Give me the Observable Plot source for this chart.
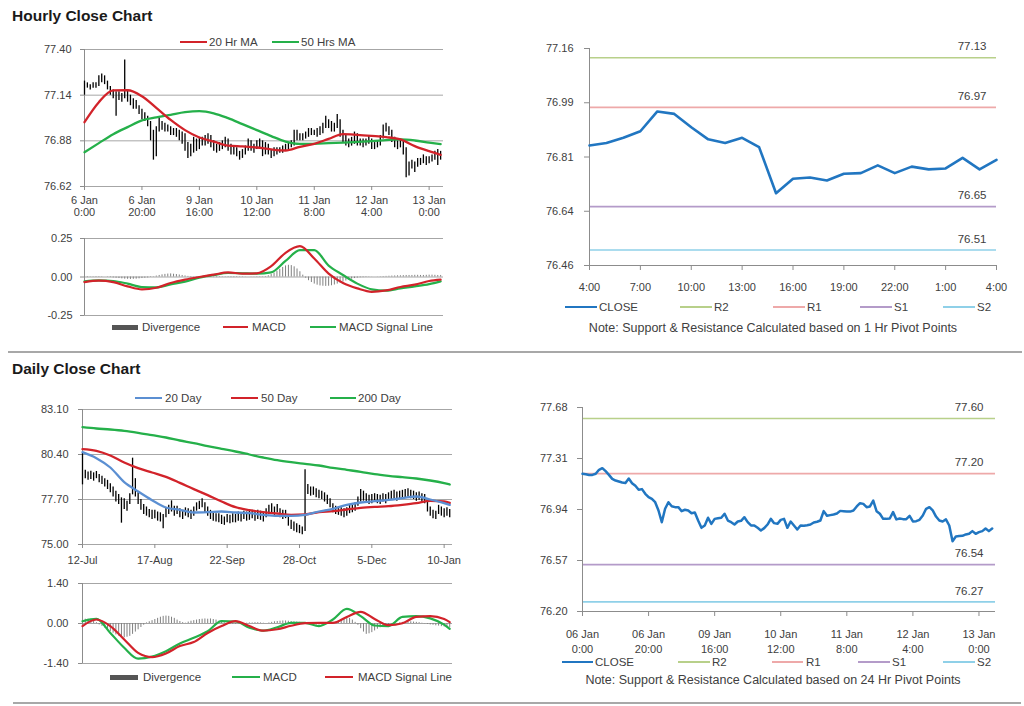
<!DOCTYPE html>
<html><head><meta charset="utf-8">
<script src="https://cdn.jsdelivr.net/npm/d3@7"></script>
<script src="https://cdn.jsdelivr.net/npm/@observablehq/plot@0.6"></script>
<style>
body{margin:0;background:#fff;font-family:"Liberation Sans",Arial,Helvetica,sans-serif;}
#root{position:relative;width:1024px;height:706px;overflow:hidden;background:#fff;}
.title{position:absolute;font-weight:bold;font-size:15.5px;color:#1a1a1a;line-height:18px;white-space:nowrap;}
.sep{position:absolute;height:2px;background:#a8a8a8;}
.note{position:absolute;font-size:12.5px;color:#404040;text-align:center;white-space:nowrap;line-height:14px;}
</style></head><body><div id="root"></div>
<script>
// ---------------- DATA ----------------
// Hourly bars (index 0 = 6 Jan 0:00, one bar per trading hour)
const hTickPos = [0, 20, 40, 60, 80, 100, 120];
const hTickLabels = ["6 Jan\n0:00","6 Jan\n20:00","9 Jan\n16:00","10 Jan\n12:00","11 Jan\n8:00","12 Jan\n4:00","13 Jan\n0:00"];
const hPriceTicks = [76.62, 76.88, 77.14, 77.40];
const hClose = [
77.199,77.196,77.191,77.191,77.199,77.228,77.240,77.218,77.191,77.162,
77.150,77.143,77.136,77.133,77.165,77.131,77.112,77.083,77.088,77.054,
77.030,77.017,76.993,76.933,76.848,76.945,76.993,76.964,76.957,76.957,
76.928,76.938,76.933,76.913,76.918,76.860,76.807,76.824,76.880,76.836,
76.872,76.877,76.880,76.909,76.860,76.848,76.831,76.853,76.858,76.884,
76.848,76.824,76.824,76.807,76.788,76.805,76.831,76.872,76.841,76.836,
76.865,76.872,76.807,76.853,76.824,76.795,76.824,76.822,76.826,76.831,
76.846,76.851,76.860,76.928,76.894,76.899,76.904,76.911,76.930,76.928,
76.925,76.925,76.933,76.962,76.986,76.981,76.957,76.962,77.005,76.928,
76.909,76.872,76.872,76.875,76.921,76.868,76.875,76.870,76.870,76.894,
76.853,76.855,76.865,76.896,76.945,76.957,76.933,76.889,76.860,76.853,
76.868,76.824,76.710,76.744,76.747,76.749,76.759,76.764,76.783,76.764,
76.776,76.783,76.802,76.783,76.802];
const hHigh = [
77.22,77.21,77.20,77.21,77.21,77.25,77.26,77.25,77.22,77.19,
77.17,77.16,77.16,77.15,77.34,77.17,77.14,77.12,77.11,77.08,
77.06,77.04,77.02,76.99,76.94,76.96,77.01,76.99,76.98,76.97,
76.96,76.95,76.95,76.94,76.93,76.92,76.87,76.86,76.90,76.89,
76.90,76.90,76.91,76.92,76.91,76.88,76.86,76.87,76.88,76.90,
76.89,76.86,76.85,76.84,76.82,76.83,76.85,76.89,76.88,76.86,
76.88,76.89,76.88,76.87,76.86,76.83,76.84,76.84,76.84,76.85,
76.86,76.87,76.88,76.94,76.94,76.92,76.92,76.93,76.95,76.95,
76.94,76.95,76.96,76.98,77.02,77.00,76.99,76.98,77.03,77.00,
76.94,76.91,76.89,76.90,76.93,76.92,76.89,76.89,76.89,76.91,
76.89,76.87,76.88,76.91,76.97,76.98,76.96,76.94,76.90,76.88,
76.89,76.88,76.84,76.76,76.77,76.76,76.78,76.78,76.80,76.79,
76.79,76.80,76.82,76.83,76.82];
const hLow = [
77.14,77.18,77.17,77.18,77.18,77.19,77.21,77.20,77.17,77.14,
77.12,77.02,77.11,77.10,77.12,77.10,77.08,77.06,77.06,77.03,
77.00,76.99,76.96,76.88,76.77,76.79,76.93,76.94,76.93,76.93,
76.91,76.91,76.90,76.88,76.86,76.82,76.78,76.79,76.81,76.82,
76.83,76.85,76.85,76.86,76.84,76.82,76.81,76.82,76.83,76.84,
76.82,76.80,76.80,76.79,76.77,76.78,76.80,76.82,76.82,76.81,
76.83,76.84,76.79,76.80,76.80,76.78,76.79,76.80,76.81,76.81,
76.82,76.83,76.84,76.85,76.88,76.88,76.88,76.89,76.90,76.91,
76.91,76.90,76.91,76.92,76.95,76.95,76.93,76.93,76.95,76.90,
76.87,76.85,76.84,76.85,76.86,76.85,76.85,76.84,76.85,76.86,
76.83,76.83,76.84,76.85,76.89,76.93,76.91,76.87,76.84,76.83,
76.84,76.80,76.67,76.68,76.72,76.70,76.73,76.74,76.75,76.74,
76.75,76.76,76.77,76.74,76.77];
// moving averages and MACD read at these bar indices
const hSampleIdx = [0,5,10,15,20,25,30,35,40,45,50,55,60,65,70,75,80,85,90,95,100,105,110,115,120,124];
const hMA20 = [76.986,77.100,77.167,77.168,77.134,77.068,76.999,76.941,76.899,76.876,76.853,76.848,76.842,76.831,76.825,76.846,76.863,76.891,76.918,76.914,76.908,76.901,76.888,76.850,76.821,76.800];
const hMA50 = [76.815,76.867,76.918,76.958,76.996,77.013,77.028,77.043,77.049,77.037,77.009,76.975,76.941,76.907,76.876,76.863,76.863,76.867,76.870,76.874,76.878,76.884,76.888,76.882,76.870,76.861];
const hMacdTicks = [-0.25, 0, 0.25];
const hMacd = [-0.033,-0.024,-0.033,-0.061,-0.080,-0.070,-0.039,-0.017,0.000,0.015,0.030,0.022,0.024,0.070,0.157,0.200,0.120,0.022,-0.039,-0.074,-0.096,-0.087,-0.065,-0.050,-0.026,-0.017];
const hSignal = [-0.028,-0.022,-0.026,-0.043,-0.065,-0.067,-0.048,-0.030,-0.004,0.013,0.026,0.024,0.022,0.030,0.104,0.174,0.174,0.074,0.013,-0.043,-0.080,-0.089,-0.074,-0.061,-0.046,-0.028];
const hDiv = [
-0.003,-0.004,-0.002,0.002,0.003,0.003,0.002,0,-0.002,-0.004,
-0.006,-0.008,-0.010,-0.012,-0.014,-0.015,-0.016,-0.015,-0.014,-0.012,-0.010,-0.008,-0.006,
-0.003,0.002,0.006,0.010,0.014,0.017,0.019,0.020,0.018,0.016,0.013,0.010,0.007,0.004,
0.003,0.002,0.002,0.001,0,-0.002,-0.003,-0.003,-0.004,-0.004,-0.003,-0.002,-0.002,-0.003,-0.004,-0.004,-0.003,-0.002,-0.002,-0.001,0,0.001,0.001,0.002,0.002,0.002,0.003,
0.008,0.016,0.026,0.038,0.050,0.062,0.072,0.076,0.074,0.066,0.052,0.034,0.012,
-0.008,-0.024,-0.036,-0.046,-0.053,-0.058,-0.060,-0.061,-0.060,-0.057,-0.052,-0.046,-0.040,-0.033,-0.026,-0.020,-0.014,-0.010,-0.007,
-0.005,-0.004,-0.003,-0.002,-0.001,0,0.001,0.002,0.003,0.004,
0.005,0.006,0.007,0.008,0.008,0.009,0.010,0.010,0.010,0.011,0.011,0.010,0.010,0.011,0.012,0.012,0.011,0.010,0.010];

// Hourly pivot chart (last 24 hours)
const pTickPos = [0,3,6,9,12,15,18,21,24];
const pTickLabels = ["4:00","7:00","10:00","13:00","16:00","19:00","22:00","1:00","4:00"];
const pYTicks = [76.46, 76.635, 76.81, 76.985, 77.16];
const pYLabels = ["76.46","76.64","76.81","76.99","77.16"];
const pClose = [76.847,76.855,76.872,76.893,76.957,76.949,76.906,76.867,76.855,76.872,76.842,76.693,76.740,76.744,76.734,76.756,76.758,76.783,76.758,76.779,76.770,76.773,76.807,76.770,76.801];
const hPivotNames = ["R2","R1","S1","S2"];
const hPivotValues = [77.13, 76.97, 76.65, 76.51];

// Daily bars (index 0 = 12-Jul)
const dTickPos = [0, 26, 52, 78, 104, 130];
const dTickLabels = ["12-Jul","17-Aug","22-Sep","28-Oct","5-Dec","10-Jan"];
const dPriceTicks = [75.00, 77.70, 80.40, 83.10];
const dClose = [
79.18,79.28,79.08,79.18,79.08,79.22,78.98,78.88,78.74,78.58,
78.42,78.18,77.88,77.74,77.18,77.48,77.28,77.78,78.68,78.18,
77.74,77.38,77.08,76.98,76.88,76.78,76.82,76.68,76.62,76.48,
76.98,77.08,77.28,76.98,77.08,76.88,76.78,76.98,76.88,76.78,
76.98,77.28,77.38,77.48,77.18,76.98,76.78,76.68,76.62,76.58,
76.48,76.38,76.54,76.48,76.58,76.54,76.68,76.62,76.78,76.68,
76.74,76.82,76.68,76.78,76.74,76.62,76.88,77.08,77.18,76.98,
77.18,76.88,76.78,76.82,76.38,76.18,76.08,75.98,75.88,75.78,
78.38,78.28,78.18,78.22,78.08,78.02,77.98,77.82,77.68,77.48,
77.18,77.08,77.02,76.98,76.88,76.98,77.14,77.18,77.28,77.58,
77.98,77.88,77.78,77.68,77.74,77.82,77.74,77.68,77.82,77.74,
77.88,77.98,78.02,77.88,77.98,78.02,78.08,78.14,78.02,77.98,
77.88,77.94,77.82,77.74,77.18,76.98,76.78,76.74,77.08,76.98,
76.88,76.94,76.82];
const dHigh = [
80.48,79.45,79.35,79.40,79.30,79.38,79.20,79.10,78.95,78.85,
78.65,78.45,78.20,78.00,77.80,77.75,77.60,78.05,80.18,78.95,
78.10,77.70,77.40,77.25,77.10,77.05,77.05,76.95,76.90,76.80,
77.20,77.35,77.62,77.30,77.30,77.15,77.05,77.20,77.15,77.05,
77.25,77.50,77.60,77.74,77.50,77.25,77.05,76.90,76.85,76.85,
76.75,76.65,76.80,76.75,76.85,76.80,76.95,76.90,77.00,76.95,
77.00,77.05,76.95,77.05,77.00,76.90,77.15,77.35,77.45,77.25,
77.40,77.15,77.05,77.05,76.80,76.45,76.35,76.25,76.15,76.05,
79.48,78.60,78.45,78.45,78.35,78.25,78.20,78.10,77.95,77.75,
77.45,77.30,77.25,77.20,77.15,77.20,77.35,77.40,77.50,77.85,
78.30,78.20,78.05,77.95,78.00,78.05,78.00,77.95,78.05,78.00,
78.10,78.20,78.25,78.15,78.20,78.25,78.30,78.35,78.25,78.20,
78.10,78.15,78.05,78.00,77.75,77.25,77.05,77.00,77.35,77.25,
77.15,77.20,77.10];
const dLow = [
78.58,78.95,78.85,78.90,78.80,78.95,78.70,78.60,78.45,78.30,
78.10,77.85,77.55,77.40,76.28,77.10,77.00,77.40,77.98,77.85,
77.40,77.05,76.80,76.70,76.60,76.50,76.55,76.40,76.35,75.94,
76.60,76.80,76.95,76.70,76.80,76.60,76.50,76.70,76.60,76.50,
76.70,77.00,77.10,77.20,76.90,76.70,76.50,76.40,76.35,76.30,
76.20,76.15,76.30,76.25,76.30,76.30,76.40,76.35,76.50,76.40,
76.45,76.55,76.40,76.50,76.45,76.35,76.60,76.80,76.90,76.70,
76.90,76.60,76.50,76.55,76.10,75.90,75.80,75.70,75.65,75.58,
75.78,78.00,77.90,77.95,77.80,77.75,77.70,77.55,77.40,77.20,
76.90,76.80,76.75,76.70,76.60,76.70,76.85,76.90,77.00,77.30,
77.55,77.60,77.50,77.40,77.45,77.55,77.45,77.40,77.55,77.45,
77.60,77.70,77.75,77.60,77.70,77.75,77.80,77.85,77.75,77.70,
77.60,77.65,77.55,77.45,76.95,76.70,76.55,76.50,76.80,76.70,
76.60,76.70,76.60];
const dSampleIdx = [0,5,10,15,20,25,30,35,40,45,50,55,60,65,70,75,80,85,90,95,100,105,110,115,120,125,130,132];
const dMA20 = [80.54,80.18,79.62,78.74,78.18,77.66,77.22,77.08,76.92,76.94,76.98,76.92,76.88,76.78,76.72,76.72,76.78,76.98,77.14,77.38,77.52,77.60,77.68,77.78,77.88,77.70,77.48,77.38];
const dMA50 = [80.72,80.62,80.34,79.92,79.58,79.32,79.06,78.70,78.32,77.96,77.58,77.24,77.06,76.94,76.86,76.78,76.80,76.94,77.00,77.10,77.20,77.26,77.30,77.38,77.48,77.62,77.58,77.50];
const dMA200 = [82.04,81.96,81.90,81.82,81.70,81.56,81.42,81.24,81.08,80.90,80.74,80.58,80.40,80.22,80.06,79.94,79.84,79.74,79.60,79.48,79.36,79.22,79.12,79.04,78.96,78.84,78.68,78.60];
const dMacdTicks = [-1.40, 0, 1.40];
const dMacd = [0.08,0.16,-0.33,-0.85,-1.23,-1.16,-0.97,-0.70,-0.50,-0.27,0.08,0.07,-0.15,-0.25,-0.13,0.02,0.02,-0.09,0.14,0.51,0.26,-0.07,-0.09,0.23,0.26,0.18,-0.04,-0.19];
const dSignal = [-0.09,0.14,-0.09,-0.56,-1.03,-1.18,-1.05,-0.79,-0.65,-0.33,-0.09,0.08,-0.09,-0.25,-0.20,-0.08,0.01,0.02,0.02,0.23,0.41,0.16,-0.06,0.01,0.23,0.26,0.16,0.05];
const dDiv = [
0.10,0.15,0.15,0.12,0.08,0.03,
-0.05,-0.10,-0.16,-0.22,-0.28,-0.34,-0.40,-0.44,-0.47,-0.50,-0.48,-0.45,-0.38,-0.30,-0.22,-0.14,-0.06,
0.02,0.06,0.10,0.14,0.18,0.22,0.25,0.26,0.25,0.22,0.18,0.12,0.07,0.03,0.01,
0.05,0.08,0.10,0.12,0.14,0.15,0.16,0.15,0.16,0.14,0.12,0.08,0.04,
0.02,0.00,-0.02,-0.03,-0.03,-0.02,-0.01,0.00,0.01,0.02,
0.02,0.03,0.03,0.02,0.01,0.00,0.02,0.04,0.06,0.07,
0.08,0.09,0.09,0.08,0.07,0.06,0.05,0.04,0.03,0.03,
0.00,-0.03,-0.05,-0.06,-0.06,-0.05,-0.04,-0.03,-0.02,0.00,0.04,0.09,0.14,
0.18,0.20,0.18,0.12,0.04,
-0.06,-0.18,-0.30,-0.38,-0.36,-0.32,-0.26,-0.20,-0.15,-0.10,-0.07,-0.05,
-0.04,-0.02,0.00,0.02,0.04,0.05,0.06,0.06,0.05,0.04,0.03,
0.01,-0.01,-0.03,-0.05,-0.06,-0.08,-0.09,-0.11,-0.12,-0.14,-0.15];

// Daily pivot chart (hourly closes, same bars as the hourly chart)
const qTickPos = [0, 20, 40, 60, 80, 100, 120];
const qTickLabels = ["06 Jan\n0:00","06 Jan\n20:00","09 Jan\n16:00","10 Jan\n12:00","11 Jan\n8:00","12 Jan\n4:00","13 Jan\n0:00"];
const qYTicks = [76.20, 76.57, 76.94, 77.31, 77.68];
const dPivotNames = ["R2","R1","S1","S2"];
const dPivotValues = [77.60, 77.20, 76.54, 76.27];

// text
const titles = ["Hourly Close Chart", "Daily Close Chart"];
const hMaNames = ["20 Hr MA", "50 Hrs MA"];
const dMaNames = ["20 Day", "50 Day", "200 Day"];
const macdNames = ["Divergence", "MACD", "MACD Signal Line"];
const notes = ["Note: Support & Resistance Calculated based on 1 Hr Pivot Points",
               "Note: Support & Resistance Calculated based on 24 Hr Pivot Points"];

// ---------------- STYLE ----------------
const FONT = '"Liberation Sans", Arial, Helvetica, sans-serif';
const TXT = "#404040", GRID = "#a6a6a6", AXIS = "#8c8c8c";
const RED = "#d2232a", GREEN = "#25b04a", BLUE20 = "#5b8fd2", CLOSEBLUE = "#2176c1";
const PIVC = {R2: "#b8d08a", R1: "#eea9a9", S1: "#b49bc9", S2: "#8fd0e8"};

const root = document.getElementById("root");
function place(el, left, top) {
  const d = document.createElement("div");
  d.style.cssText = `position:absolute;left:${left}px;top:${top}px;`;
  d.appendChild(el); root.appendChild(d);
}
function mk(o) {
  return Plot.plot(Object.assign(o, {style: {fontFamily: FONT, fontSize: "11px", color: TXT, background: "transparent", overflow: "visible"}}));
}
const fmt2 = d => d.toFixed(2);
function labFrom(pos, labels) { return d => labels[pos.indexOf(d)]; }
function legLine(x1, x2, y, color, th) {
  const d = document.createElement("div");
  d.style.cssText = `position:absolute;left:${x1}px;top:${y - th / 2}px;width:${x2 - x1}px;height:${th}px;background:${color};`;
  root.appendChild(d);
}
function legText(x, y, s) {
  const d = document.createElement("div");
  d.textContent = s;
  d.style.cssText = `position:absolute;left:${x}px;top:${y - 7}px;font-size:11.5px;color:${TXT};line-height:14px;white-space:nowrap;`;
  root.appendChild(d);
}
function title(s, x, y) { const d = document.createElement("div"); d.className = "title"; d.textContent = s; d.style.left = x + "px"; d.style.top = y + "px"; root.appendChild(d); }
function note(s, cx, y) { const d = document.createElement("div"); d.className = "note"; d.textContent = s; d.style.left = (cx - 250) + "px"; d.style.width = "500px"; d.style.top = (y - 7) + "px"; root.appendChild(d); }
function sep(x, y, w) { const d = document.createElement("div"); d.className = "sep"; d.style.left = x + "px"; d.style.top = y + "px"; d.style.width = w + "px"; root.appendChild(d); }

// ---------------- PANEL 1: hourly price ----------------
const hBars = hClose.map((c, i) => ({i, c, hi: hHigh[i], lo: hLow[i]}));
place(mk({
  width: 460, height: 200, marginLeft: 84, marginRight: 17, marginTop: 19, marginBottom: 44,
  x: {domain: [0, 125], axis: null}, y: {domain: [hPriceTicks[0], hPriceTicks[hPriceTicks.length - 1]], axis: null},
  marks: [
    Plot.gridY(hPriceTicks, {stroke: GRID, strokeOpacity: 1}),
    Plot.ruleX([0], {stroke: AXIS}),
    Plot.axisY(hPriceTicks, {tickSize: 4, tickPadding: 9, tickFormat: fmt2, stroke: AXIS, fill: TXT, label: null}),
    Plot.axisX(hTickPos, {tickSize: 4, tickPadding: 5, tickFormat: labFrom(hTickPos, hTickLabels), stroke: AXIS, fill: TXT, label: null, lineHeight: 1.1}),
    Plot.ruleX(hBars, {x: "i", y1: "lo", y2: "hi", stroke: "#000", strokeWidth: 1.3}),
    Plot.line(hMA50, {x: hSampleIdx, y: d => d, stroke: GREEN, strokeWidth: 2.3, curve: "monotone-x"}),
    Plot.line(hMA20, {x: hSampleIdx, y: d => d, stroke: RED, strokeWidth: 2.3, curve: "monotone-x"})
  ]
}), 0, 30);
legLine(180, 207, 42, RED, 2); legText(209, 42, hMaNames[0]);
legLine(272, 299, 42, GREEN, 2); legText(301, 42, hMaNames[1]);

// ---------------- PANEL 1b: hourly MACD ----------------
place(mk({
  width: 460, height: 100, marginLeft: 84, marginRight: 17, marginTop: 10, marginBottom: 13,
  x: {domain: [0, 125], axis: null}, y: {domain: [hMacdTicks[0], hMacdTicks[2]], axis: null},
  marks: [
    Plot.gridY(hMacdTicks, {stroke: GRID, strokeOpacity: 1}),
    Plot.ruleX([0], {stroke: AXIS}),
    Plot.axisY(hMacdTicks, {tickSize: 4, tickPadding: 8, tickFormat: fmt2, stroke: AXIS, fill: TXT, label: null}),
    Plot.ruleX(hDiv, {x: (d, i) => i, y1: 0, y2: d => d, stroke: "#808080", strokeWidth: 1}),
    Plot.line(hSignal, {x: hSampleIdx, y: d => d, stroke: GREEN, strokeWidth: 2.2, curve: "monotone-x"}),
    Plot.line(hMacd, {x: hSampleIdx, y: d => d, stroke: RED, strokeWidth: 2.2, curve: "monotone-x"})
  ]
}), 0, 228);
legLine(112, 138, 327, "#555", 5); legText(142, 327, macdNames[0]);
legLine(223, 248, 327, RED, 2); legText(252, 327, macdNames[1]);
legLine(310, 336, 327, GREEN, 2); legText(339, 327, macdNames[2]);

// ---------------- PANEL 2: hourly pivots ----------------
function pivotMarks(names, values, dx) {
  const out = [];
  names.forEach((n, k) => {
    out.push(Plot.ruleY([values[k]], {stroke: PIVC[n], strokeWidth: 1.6}));
    out.push(Plot.text([values[k]], {y: d => d, text: d => d.toFixed(2), frameAnchor: "right", textAnchor: "end", dx: dx, dy: -11, fill: TXT, fontSize: 11.5}));
  });
  return out;
}
place(mk({
  width: 510, height: 270, marginLeft: 89, marginRight: 14, marginTop: 18, marginBottom: 35,
  x: {domain: [0, 24], axis: null}, y: {domain: [pYTicks[0], pYTicks[pYTicks.length - 1]], axis: null},
  marks: [
    ...pivotMarks(hPivotNames, hPivotValues, -10),
    Plot.ruleX([0], {stroke: AXIS}),
    Plot.ruleY([pYTicks[0]], {stroke: AXIS}),
    Plot.axisY(pYTicks, {tickSize: 5, tickPadding: 11, tickFormat: labFrom(pYTicks, pYLabels), stroke: AXIS, fill: TXT, label: null}),
    Plot.axisX(pTickPos, {tickSize: 5, tickPadding: 13, tickFormat: labFrom(pTickPos, pTickLabels), stroke: AXIS, fill: TXT, label: null}),
    Plot.line(pClose, {x: (d, i) => i, y: d => d, stroke: CLOSEBLUE, strokeWidth: 2.6})
  ]
}), 500, 30);
legLine(565, 597, 307, CLOSEBLUE, 2); legText(599, 307, "CLOSE");
legLine(680, 712, 307, PIVC.R2, 1.2); legText(714, 307, "R2");
legLine(773, 805, 307, PIVC.R1, 1.2); legText(807, 307, "R1");
legLine(860, 892, 307, PIVC.S1, 1.2); legText(894, 307, "S1");
legLine(943, 975, 307, PIVC.S2, 1.2); legText(977, 307, "S2");
note(notes[0], 773, 328);

// ---------------- PANEL 3: daily price ----------------
const dBars = dClose.map((c, i) => ({i, c, hi: dHigh[i], lo: dLow[i]}));
place(mk({
  width: 470, height: 175, marginLeft: 82, marginRight: 18, marginTop: 14, marginBottom: 26,
  x: {domain: [0, 133], axis: null}, y: {domain: [dPriceTicks[0], dPriceTicks[dPriceTicks.length - 1]], axis: null},
  marks: [
    Plot.gridY(dPriceTicks, {stroke: GRID, strokeOpacity: 1}),
    Plot.ruleX([0], {stroke: AXIS}),
    Plot.axisY(dPriceTicks, {tickSize: 4, tickPadding: 10, tickFormat: fmt2, stroke: AXIS, fill: TXT, label: null}),
    Plot.axisX(dTickPos, {tickSize: 4, tickPadding: 8, tickFormat: labFrom(dTickPos, dTickLabels), stroke: AXIS, fill: TXT, label: null}),
    Plot.ruleX(dBars, {x: "i", y1: "lo", y2: "hi", stroke: "#000", strokeWidth: 1.3}),
    Plot.line(dMA200, {x: dSampleIdx, y: d => d, stroke: GREEN, strokeWidth: 2.3, curve: "monotone-x"}),
    Plot.line(dMA50, {x: dSampleIdx, y: d => d, stroke: RED, strokeWidth: 2.3, curve: "monotone-x"}),
    Plot.line(dMA20, {x: dSampleIdx, y: d => d, stroke: BLUE20, strokeWidth: 2.3, curve: "monotone-x"})
  ]
}), 0, 395);
legLine(135, 162, 398, BLUE20, 2); legText(165, 398, dMaNames[0]);
legLine(231, 258, 398, RED, 2); legText(261, 398, dMaNames[1]);
legLine(330, 356, 398, GREEN, 2); legText(358, 398, dMaNames[2]);

// ---------------- PANEL 3b: daily MACD ----------------
place(mk({
  width: 470, height: 100, marginLeft: 82, marginRight: 18, marginTop: 10, marginBottom: 10,
  x: {domain: [0, 133], axis: null}, y: {domain: [dMacdTicks[0], dMacdTicks[2]], axis: null},
  marks: [
    Plot.gridY(dMacdTicks, {stroke: GRID, strokeOpacity: 1}),
    Plot.ruleX([0], {stroke: AXIS}),
    Plot.axisY(dMacdTicks, {tickSize: 4, tickPadding: 10, tickFormat: fmt2, stroke: AXIS, fill: TXT, label: null}),
    Plot.ruleX(dDiv, {x: (d, i) => i, y1: 0, y2: d => d, stroke: "#808080", strokeWidth: 1}),
    Plot.line(dMacd, {x: dSampleIdx, y: d => d, stroke: GREEN, strokeWidth: 2.2, curve: "monotone-x"}),
    Plot.line(dSignal, {x: dSampleIdx, y: d => d, stroke: RED, strokeWidth: 2.2, curve: "monotone-x"})
  ]
}), 0, 573);
legLine(110, 138, 677, "#555", 5); legText(143, 677, macdNames[0]);
legLine(232, 260, 677, GREEN, 2); legText(263, 677, macdNames[1]);
legLine(325, 353, 677, RED, 2); legText(358, 677, macdNames[2]);

// ---------------- PANEL 4: daily pivots ----------------
place(mk({
  width: 510, height: 265, marginLeft: 82, marginRight: 15, marginTop: 12, marginBottom: 49,
  x: {domain: [0, 125], axis: null}, y: {domain: [qYTicks[0], qYTicks[qYTicks.length - 1]], axis: null},
  marks: [
    ...pivotMarks(dPivotNames, dPivotValues, -12),
    Plot.ruleX([0], {stroke: AXIS}),
    Plot.ruleY([qYTicks[0]], {stroke: AXIS}),
    Plot.axisY(qYTicks, {tickSize: 5, tickPadding: 10, tickFormat: fmt2, stroke: AXIS, fill: TXT, label: null}),
    Plot.axisX(qTickPos, {tickSize: 5, tickPadding: 11, tickFormat: labFrom(qTickPos, qTickLabels), stroke: AXIS, fill: TXT, label: null, lineHeight: 1.36}),
    Plot.line(hClose, {x: (d, i) => i, y: d => d, stroke: CLOSEBLUE, strokeWidth: 2.5})
  ]
}), 500, 395);
legLine(562, 593, 662, CLOSEBLUE, 2); legText(595, 662, "CLOSE");
legLine(678, 710, 662, PIVC.R2, 1.2); legText(712, 662, "R2");
legLine(772, 803, 662, PIVC.R1, 1.2); legText(806, 662, "R1");
legLine(858, 890, 662, PIVC.S1, 1.2); legText(892, 662, "S1");
legLine(943, 975, 662, PIVC.S2, 1.2); legText(977, 662, "S2");
note(notes[1], 773, 680);

// ---------------- titles & separators ----------------
title(titles[0], 12, 7);
title(titles[1], 12, 360);
sep(8, 351, 1014);
sep(13, 702, 1008);
</script></body></html>
